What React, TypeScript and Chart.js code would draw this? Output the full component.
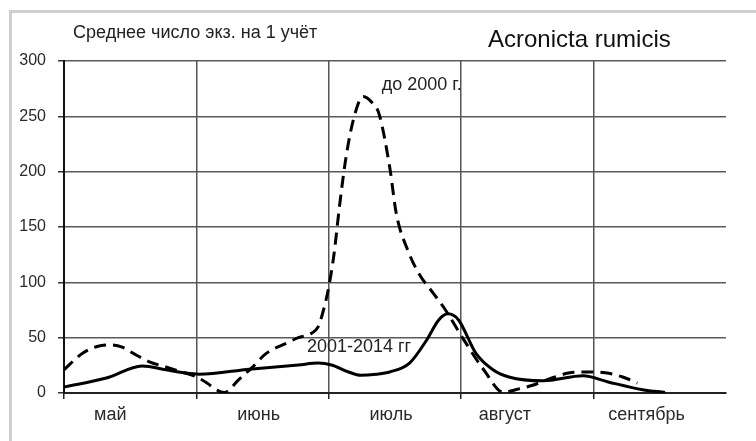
import React, { useEffect, useRef } from "react";
import { Chart, registerables } from "chart.js";

Chart.register(...registerables);

const months = ["май", "июнь", "июль", "август", "сентябрь"];
// month label centres, in month units along the x scale
const monthLabelPos = [0.35, 1.47, 2.47, 3.33, 4.4];
const yTicks = [0, 50, 100, 150, 200, 250, 300];

const seriesRecentName = "2001-2014 гг";
const seriesOldName = "до 2000 г.";
const yTitle = "Среднее число экз. на 1 учёт";
const speciesTitle = "Acronicta rumicis";

// x in months from start of May
const recentX = [0, 0.32, 0.59, 0.77, 0.92, 1.02, 1.4, 1.77, 1.92, 2.02, 2.15, 2.24, 2.36, 2.46, 2.61, 2.74, 2.83, 2.9, 2.98, 3.11, 3.24, 3.36, 3.62, 3.92, 4.11, 4.37, 4.54];
const recentY = [5.5, 13.5, 24.5, 21, 18, 17, 21.5, 25.3, 27, 25.3, 19, 16, 17, 19, 27, 48, 66, 71.5, 66, 36, 21, 14.5, 11, 15.5, 10, 3, 0.5];

const oldX = [0, 0.14, 0.25, 0.35, 0.44, 0.52, 0.65, 0.77, 0.89, 1.0, 1.08, 1.15, 1.21, 1.32, 1.42, 1.53, 1.68, 1.77, 1.87, 1.92, 1.96, 2.0, 2.04, 2.08, 2.13, 2.19, 2.26, 2.33, 2.38, 2.46, 2.51, 2.6, 2.68, 2.79, 2.87, 3.02, 3.17, 3.32, 3.41, 3.54, 3.66, 3.81, 3.92, 4.07, 4.22, 4.33];
const oldY = [21, 36, 42, 43.5, 41.5, 36, 28, 23.5, 19, 14.5, 9, 3, 0.5, 12, 23, 36, 45, 50, 54, 60, 75, 96, 126, 168, 213, 249, 268, 262, 252, 204, 162, 128, 108, 90, 77, 48, 21, 0.5, 3, 7, 12.5, 18, 19, 18.5, 14.5, 9];

const toPoints = (xs: number[], ys: number[]) => xs.map((x, i) => ({ x, y: ys[i] }));

const FONT = "'Liberation Sans', Arial, sans-serif";

const decorPlugin = {
  id: "decor",
  beforeDraw(chart: any) {
    const ctx = chart.ctx;
    ctx.save();
    ctx.fillStyle = "#ffffff";
    ctx.fillRect(0, 0, chart.width, chart.height);
    ctx.strokeStyle = "#cfcfcf";
    ctx.lineWidth = 3;
    ctx.beginPath();
    ctx.moveTo(10.5, chart.height);
    ctx.lineTo(10.5, 11.5);
    ctx.lineTo(chart.width, 11.5);
    ctx.stroke();
    ctx.restore();
  },
  afterDraw(chart: any) {
    const ctx = chart.ctx;
    const xs = chart.scales.x;
    const ys = chart.scales.y;
    ctx.save();
    ctx.fillStyle = "#222";
    ctx.textBaseline = "middle";
    ctx.textAlign = "left";
    ctx.font = `18px ${FONT}`;
    ctx.fillText(yTitle, 73, 33);
    ctx.font = `24px ${FONT}`;
    ctx.fillStyle = "#111";
    ctx.fillText(speciesTitle, 488, 40);
    ctx.fillStyle = "#222";
    ctx.font = `18px ${FONT}`;
    ctx.fillText(seriesOldName, xs.getPixelForValue(2.4), ys.getPixelForValue(278));
    ctx.fillText(seriesRecentName, xs.getPixelForValue(1.835), ys.getPixelForValue(41.5));
    ctx.restore();
  },
};

export default function App() {
  const ref = useRef<HTMLCanvasElement | null>(null);
  useEffect(() => {
    if (!ref.current) return;
    const chart = new Chart(ref.current, {
      type: "line",
      data: {
        datasets: [
          {
            label: seriesOldName,
            data: toPoints(oldX, oldY),
            borderColor: "#000",
            borderWidth: 3,
            borderDash: [12, 7],
            pointRadius: 0,
            tension: 0.4,
            cubicInterpolationMode: "monotone",
            fill: false,
            xAxisID: "x",
            yAxisID: "y",
          },
          {
            label: seriesRecentName,
            data: toPoints(recentX, recentY),
            borderColor: "#000",
            borderWidth: 3,
            pointRadius: 0,
            tension: 0.4,
            cubicInterpolationMode: "monotone",
            fill: false,
            xAxisID: "x",
            yAxisID: "y",
          },
        ],
      },
      options: {
        responsive: false,
        animation: false,
        devicePixelRatio: 1,
        layout: { padding: { left: 0, right: 30, top: 61, bottom: 0 } },
        plugins: { legend: { display: false }, tooltip: { enabled: false }, title: { display: false } },
        scales: {
          x: {
            type: "linear",
            position: "bottom",
            weight: 0,
            min: 0,
            max: 5,
            ticks: { stepSize: 1, display: false },
            grid: {
              color: (c: any) => (c.tick && c.tick.value === 5 ? "rgba(0,0,0,0)" : "#555"),
              tickColor: (c: any) => (c.tick && c.tick.value === 5 ? "rgba(0,0,0,0)" : "#222"),
              lineWidth: 1.5,
              tickLength: 6,
              drawTicks: true,
            },
            border: { display: true, color: "#222", width: 2 },
            afterFit: (s: any) => {
              s.height = 8;
            },
          },
          months: {
            type: "linear",
            position: "bottom",
            weight: 1,
            min: 0,
            max: 5,
            afterBuildTicks: (s: any) => {
              s.ticks = monthLabelPos.map((v) => ({ value: v }));
            },
            ticks: {
              autoSkip: false,
              maxRotation: 0,
              padding: 3,
              color: "#2a2a2a",
              font: { family: FONT, size: 18 },
              callback: (_v: any, i: number) => months[i],
            },
            grid: { display: false, drawTicks: false },
            border: { display: false },
            afterFit: (s: any) => {
              s.height = 40;
            },
          },
          y: {
            min: 0,
            max: 300,
            afterBuildTicks: (s: any) => {
              s.ticks = yTicks.map((v) => ({ value: v }));
            },
            ticks: {
              color: "#2a2a2a",
              padding: 12,
              font: { family: FONT, size: 16 },
            },
            grid: {
              color: "#5a5a5a",
              tickColor: "#333",
              lineWidth: 1.5,
              tickLength: 6,
            },
            border: { display: true, color: "#111", width: 2 },
            afterFit: (s: any) => {
              s.width = 64;
            },
          },
        },
      },
      plugins: [decorPlugin],
    });
    return () => chart.destroy();
  }, []);
  return (
    <div style={{ position: "fixed", left: 0, top: 0, width: 756, height: 441, background: "#fff" }}>
      <canvas ref={ref} width={756} height={441} style={{ display: "block" }} />
    </div>
  );
}
